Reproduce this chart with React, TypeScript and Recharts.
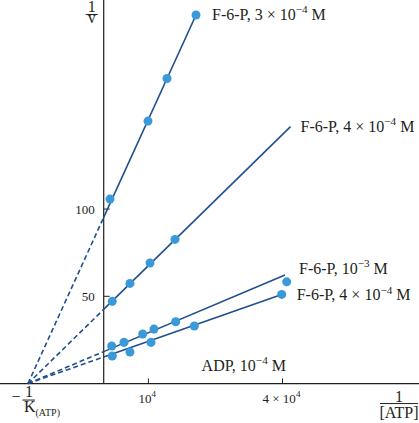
import { ComposedChart, Line, Scatter, XAxis, YAxis, ReferenceLine, ReferenceDot } from 'recharts';

// x = 1/[ATP] (M^-1), y = 1/v
const xNegInvK = -16940; // -1/K(ATP): all fits meet here on the x axis
const xDomain = [-23200, 70540];
const yDomain = [-22.6, 219.8];

const xTicks = [10000, 40000];
const yTicks = [50, 100];

const f6p3Points = [
  { x: 1410, y: 105.7 },
  { x: 9910, y: 150.4 },
  { x: 14160, y: 174.8 },
  { x: 20650, y: 211.2 },
];
const f6p3Fit = [
  { x: 0, y: 95.2 },
  { x: 20650, y: 211.2 },
];

const f6p4Points = [
  { x: 1920, y: 47.1 },
  { x: 5880, y: 57.4 },
  { x: 10360, y: 69.1 },
  { x: 15950, y: 82.6 },
];
const f6p4Fit = [
  { x: 0, y: 42.5 },
  { x: 41800, y: 147.2 },
];

const f6p10Points = [
  { x: 1790, y: 21.5 },
  { x: 4540, y: 23.6 },
  { x: 8720, y: 28.4 },
  { x: 11250, y: 31.2 },
  { x: 16110, y: 35.4 },
  { x: 40940, y: 58.3 },
];
const f6p10Fit = [
  { x: 0, y: 18.3 },
  { x: 40560, y: 62.2 },
];

const adpPoints = [
  { x: 1920, y: 15.8 },
  { x: 5880, y: 18.1 },
  { x: 10580, y: 23.6 },
  { x: 20270, y: 33.0 },
  { x: 39820, y: 51.1 },
];
const adpFit = [
  { x: 0, y: 15.25 },
  { x: 39820, y: 51.1 },
];

const lineColor = '#1f4f8e';
const dotColor = '#3a9ad9';
const ink = '#231f20';
const serif = '"Liberation Serif", "DejaVu Serif", serif';

type Part = { t: string; s?: 'sup' | 'sub' };

const series = [
  { key: 'f6p3', pts: f6p3Points, fit: f6p3Fit, dx: 16, dy: 5, label: [{ t: 'F-6-P, 3 × 10' }, { t: '−4', s: 'sup' }, { t: ' M' }] },
  { key: 'f6p4', pts: f6p4Points, fit: f6p4Fit, dx: 10, dy: 5.5, label: [{ t: 'F-6-P, 4 × 10' }, { t: '−4', s: 'sup' }, { t: ' M' }] },
  { key: 'f6p10', pts: f6p10Points, fit: f6p10Fit, dx: 14, dy: -1, label: [{ t: 'F-6-P, 10' }, { t: '−3', s: 'sup' }, { t: ' M' }] },
  { key: 'adp', pts: adpPoints, fit: adpFit, dx: 15, dy: 6, label: [{ t: 'F-6-P, 4 × 10' }, { t: '−4', s: 'sup' }, { t: ' M' }] },
];

const xTickLabels: Part[][] = [
  [{ t: '10' }, { t: '4', s: 'sup' }],
  [{ t: '4 × 10' }, { t: '4', s: 'sup' }],
];
const adpLabel: Part[] = [{ t: 'ADP, 10' }, { t: '−4', s: 'sup' }, { t: ' M' }];

function center(viewBox: any) {
  return {
    cx: viewBox.x + (viewBox.width || 0) / 2,
    cy: viewBox.y + (viewBox.height || 0) / 2,
  };
}

function RichText(props: any) {
  const { viewBox, dx = 0, dy = 0, parts, size = 16, anchor = 'start', subScale = 0.7 } = props;
  const { cx, cy } = center(viewBox);
  let prev = 0;
  return (
    <text x={cx + dx} y={cy + dy} fontSize={size} fontFamily={serif} fill={ink} textAnchor={anchor}>
      {parts.map((p: Part, i: number) => {
        const shift = p.s === 'sup' ? -0.42 * size : p.s === 'sub' ? 0.22 * size : 0;
        const d = shift - prev;
        prev = shift;
        return (
          <tspan key={i} dy={d} fontSize={p.s ? size * subScale : size}>
            {p.t}
          </tspan>
        );
      })}
    </text>
  );
}

// 1/v at the top of the y axis
function YTitle(props: any) {
  const { cx, cy } = center(props.viewBox);
  const x = cx - 12;
  return (
    <g fontFamily={serif} fill={ink} fontSize={16}>
      <text x={x} y={cy + 12} textAnchor="middle">1</text>
      <line x1={x - 6} x2={x + 6} y1={cy + 14.5} y2={cy + 14.5} stroke={ink} strokeWidth={1} />
      <text x={x} y={cy + 23} textAnchor="middle">v</text>
    </g>
  );
}

// 1/[ATP] at the right end of the x axis
function XTitle(props: any) {
  const { cx, cy } = center(props.viewBox);
  const x = cx - 20;
  return (
    <g fontFamily={serif} fill={ink} fontSize={16}>
      <text x={x} y={cy + 18} textAnchor="middle">1</text>
      <line x1={x - 19} x2={x + 19} y1={cy + 20} y2={cy + 20} stroke={ink} strokeWidth={1} />
      <text x={x} y={cy + 34.5} textAnchor="middle">[ATP]</text>
    </g>
  );
}

// -1/K(ATP) under the meeting point
function KLabel(props: any) {
  const { cx, cy } = center(props.viewBox);
  return (
    <g fontFamily={serif} fill={ink} fontSize={16}>
      <text x={cx - 12} y={cy + 18.5} textAnchor="middle">−</text>
      <text x={cx + 1} y={cy + 13.5} textAnchor="middle">1</text>
      <line x1={cx - 5.5} x2={cx + 7} y1={cy + 16.5} y2={cy + 16.5} stroke={ink} strokeWidth={1} />
      <text x={cx - 4} y={cy + 28.5}>
        K
        <tspan dy={3.5} fontSize={10}>(ATP)</tspan>
      </text>
    </g>
  );
}

const yTickLen = 1342; // ~6px in x units
const xTickLen = 2.9; // ~5px in y units

export default function App() {
  return (
    <div style={{ position: 'absolute', left: 0, top: 0, background: '#fff' }}>
      <ComposedChart width={419} height={423} margin={{ top: 0, right: 0, bottom: 0, left: 0 }}>
        <XAxis dataKey="x" type="number" domain={xDomain} allowDataOverflow hide />
        <YAxis dataKey="y" type="number" domain={yDomain} allowDataOverflow hide />

        <ReferenceLine y={0} stroke={ink} strokeWidth={1.2} />
        <ReferenceLine
          segment={[{ x: 0, y: 0 }, { x: 0, y: yDomain[1] }]}
          stroke={ink}
          strokeWidth={1.2}
        />
        {yTicks.map((v) => (
          <ReferenceLine
            key={'yt' + v}
            segment={[{ x: 0, y: v }, { x: yTickLen, y: v }]}
            stroke={ink}
            strokeWidth={1}
          />
        ))}
        {xTicks.map((v) => (
          <ReferenceLine
            key={'xt' + v}
            segment={[{ x: v, y: 0 }, { x: v, y: xTickLen }]}
            stroke={ink}
            strokeWidth={1}
          />
        ))}

        {series.map((s) => (
          <Line
            key={s.key + '-ext'}
            data={[{ x: xNegInvK, y: 0 }, s.fit[0]]}
            dataKey="y"
            type="linear"
            stroke={lineColor}
            strokeWidth={1.6}
            strokeDasharray="5 3"
            dot={false}
            activeDot={false}
            isAnimationActive={false}
          />
        ))}
        {series.map((s) => (
          <Line
            key={s.key + '-fit'}
            data={s.fit}
            dataKey="y"
            type="linear"
            stroke={lineColor}
            strokeWidth={1.6}
            dot={false}
            activeDot={false}
            isAnimationActive={false}
          />
        ))}
        {series.map((s) => (
          <Scatter key={s.key + '-pts'} data={s.pts} fill={dotColor} isAnimationActive={false} />
        ))}

        {series.map((s) => (
          <ReferenceDot
            key={s.key + '-lbl'}
            x={s.fit[1].x}
            y={s.fit[1].y}
            r={0}
            fill="none"
            stroke="none"
            label={<RichText parts={s.label} dx={s.dx} dy={s.dy} size={16} />}
          />
        ))}
        {yTicks.map((v) => (
          <ReferenceDot
            key={'yl' + v}
            x={0}
            y={v}
            r={0}
            fill="none"
            stroke="none"
            label={<RichText parts={[{ t: String(v) }]} dx={-9} dy={4.5} size={13} anchor="end" />}
          />
        ))}
        {xTicks.map((v, i) => (
          <ReferenceDot
            key={'xl' + v}
            x={v}
            y={0}
            r={0}
            fill="none"
            stroke="none"
            label={<RichText parts={xTickLabels[i]} dx={-1} dy={19} size={13} anchor="middle" />}
          />
        ))}
        <ReferenceDot
          x={xTicks[1]}
          y={0}
          r={0}
          fill="none"
          stroke="none"
          label={<RichText parts={adpLabel} dx={3.5} dy={-13} size={16} anchor="end" />}
        />
        <ReferenceDot x={0} y={yDomain[1]} r={0} fill="none" stroke="none" label={<YTitle />} />
        <ReferenceDot x={xDomain[1]} y={0} r={0} fill="none" stroke="none" label={<XTitle />} />
        <ReferenceDot x={xNegInvK} y={0} r={0} fill="none" stroke="none" label={<KLabel />} />
      </ComposedChart>
    </div>
  );
}
